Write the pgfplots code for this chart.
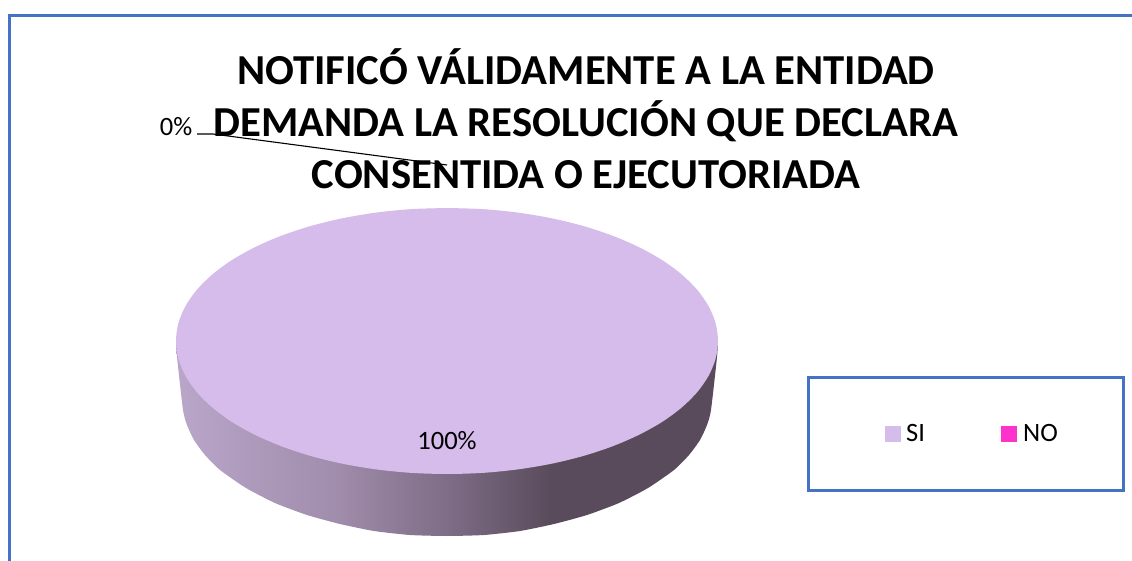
\documentclass[border=0pt]{standalone}
\usepackage{fontspec}
\setmainfont{Carlito}
\usepackage{pgfplots}
\pgfplotsset{compat=1.18}
\definecolor{pietop}{HTML}{D5BCEA}
\definecolor{pieno}{HTML}{FF33CC}
\definecolor{frame}{HTML}{4472C4}
\definecolor{sidea}{HTML}{B9A6C9}
\definecolor{sideb}{HTML}{A08CAB}
\definecolor{sidec}{HTML}{7D6C85}
\definecolor{sided}{HTML}{5A4B5C}
\pgfdeclarehorizontalshading{pieside}{100bp}{color(0bp)=(sidea); color(25bp)=(sidea); color(40bp)=(sideb); color(50.3bp)=(sidec); color(59.5bp)=(sided); color(100bp)=(sided)}
\begin{document}
\begin{tikzpicture}
\begin{axis}[
    scale only axis,
    width=1132pt, height=561pt,
    xmin=0, xmax=1132, ymin=0, ymax=561,
    y dir=reverse,
    hide axis,
]
% page background
\addplot[fill=white, draw=none] coordinates {(0,0)(1132,0)(1132,561)(0,561)} -- cycle;
% outer frame
\addplot[frame, line width=3pt] coordinates {(9,561)(9,16)(1132,16)};
% rim of the pie
\addplot[shading=pieside, draw=none, smooth, tension=0.35] coordinates {
    (176,341)(177,357)(183,410)(187,425)(194,440)(205,455)(220,470)(246,488)
    (275,503)(307,515)(340,524)(374,531)(410,535)(447,536)
    (484,535)(520,531)(554,524)(587,515)(619,503)(648,488)(674,470)(689,455)
    (700,440)(707,425)(711,410)(717,357)(718,341)
} -- cycle;
% top face, SI 100%
\addplot[fill=pietop, draw=none, smooth] coordinates {
    (447,208)(482.4,209.1)(517.1,212.5)(550.7,218.1)(582.5,225.8)(612,235.5)(638.6,247)
    (662,260)(681.7,274.5)(697.4,290.1)(708.8,306.6)(715.7,323.6)(718,341)
    (715.7,358.4)(708.8,375.4)(697.4,391.9)(681.7,407.5)(662,422)(638.6,435)(612,446.5)
    (582.5,456.2)(550.7,463.9)(517.1,469.5)(482.4,472.9)(447,474)
    (411.6,472.9)(376.9,469.5)(343.3,463.9)(311.5,456.2)(282,446.5)(255.4,435)(232,422)
    (212.3,407.5)(196.6,391.9)(185.2,375.4)(178.3,358.4)(176,341)
    (178.3,323.6)(185.2,306.6)(196.6,290.1)(212.3,274.5)(232,260)(255.4,247)(282,235.5)
    (311.5,225.8)(343.3,218.1)(376.9,212.5)(411.6,209.1)(447,208)
};
% leader line of the 0% label
\addplot[black, line width=1.1pt] coordinates {(197,134)(213,134)(447,165)};
% legend
\addplot[frame, line width=3pt] coordinates {(808,377)(1123,377)(1123,490)(808,490)} -- cycle;
\addplot[only marks, mark=square*, mark size=7.5pt, pietop] coordinates {(892.5,433.5)};
\addplot[only marks, mark=square*, mark size=7.5pt, pieno] coordinates {(1008.5,433.5)};

\node[anchor=base, font=\fontsize{42.7}{42.7}\selectfont\bfseries] at (586,84.5) {NOTIFICÓ VÁLIDAMENTE A LA ENTIDAD};
\node[anchor=base, font=\fontsize{42.7}{42.7}\selectfont\bfseries] at (586,136.5) {DEMANDA LA RESOLUCIÓN QUE DECLARA};
\node[anchor=base, font=\fontsize{42.7}{42.7}\selectfont\bfseries] at (586,188.5) {CONSENTIDA O EJECUTORIADA};
\node[anchor=base, font=\fontsize{26.5}{26.5}\selectfont] at (176,136) {0\%};
\node[anchor=base, font=\fontsize{26.5}{26.5}\selectfont] at (447,449) {100\%};
\node[anchor=base west, inner sep=0pt, font=\fontsize{26.5}{26.5}\selectfont] at (906,441) {SI};
\node[anchor=base west, inner sep=0pt, font=\fontsize{26.5}{26.5}\selectfont] at (1023,441) {NO};
\end{axis}
\end{tikzpicture}
\end{document}
